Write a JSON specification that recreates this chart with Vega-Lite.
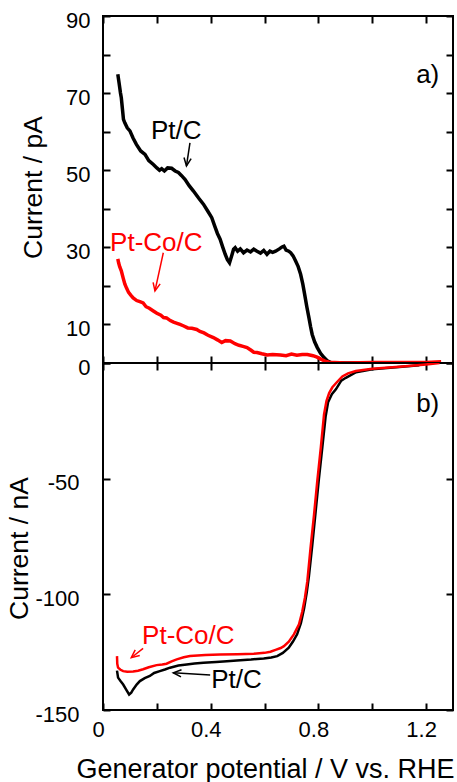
{
  "$schema": "https://vega.github.io/schema/vega-lite/v6.json",
  "padding": {"left": 5, "top": 8, "right": 0, "bottom": 0},
  "background": "white",
  "config": {
    "font": "Liberation Sans",
    "view": {"stroke": "black", "strokeWidth": 2},
    "axis": {
      "domain": false, "grid": false, "ticks": true, "tickSize": 7, "offset": -7, "tickWidth": 2, "tickColor": "black", "zindex": 1,
      "labelFont": "Liberation Sans", "labelFontSize": 22, "labelColor": "black",
      "titleFont": "Liberation Sans", "titleFontSize": 26.5, "titleFontWeight": "normal", "titleColor": "black"
    }
  },
  "datasets": {
    "topBlack": [
      {"V":0.055,"I":74.9},{"V":0.06,"I":72.5},{"V":0.065,"I":70.0},{"V":0.068,"I":68.8},{"V":0.072,"I":66.0},{"V":0.076,"I":63.2},{"V":0.081,"I":62.3},{"V":0.09,"I":61.0},{"V":0.1,"I":60.2},{"V":0.112,"I":58.3},{"V":0.124,"I":56.7},{"V":0.14,"I":55.0},{"V":0.156,"I":54.1},{"V":0.17,"I":52.5},{"V":0.187,"I":51.5},{"V":0.2,"I":50.6},{"V":0.21,"I":50.0},{"V":0.218,"I":50.4},{"V":0.228,"I":49.8},{"V":0.24,"I":50.6},{"V":0.255,"I":50.5},{"V":0.268,"I":49.8},{"V":0.28,"I":49.4},{"V":0.292,"I":48.6},{"V":0.305,"I":47.6},{"V":0.32,"I":46.0},{"V":0.336,"I":44.6},{"V":0.355,"I":42.8},{"V":0.373,"I":41.2},{"V":0.39,"I":39.3},{"V":0.404,"I":37.7},{"V":0.415,"I":35.5},{"V":0.425,"I":33.6},{"V":0.435,"I":32.1},{"V":0.445,"I":30.0},{"V":0.454,"I":28.2},{"V":0.462,"I":26.8},{"V":0.47,"I":26.0},{"V":0.478,"I":27.8},{"V":0.485,"I":29.5},{"V":0.491,"I":29.9},{"V":0.5,"I":29.0},{"V":0.51,"I":29.6},{"V":0.522,"I":28.6},{"V":0.535,"I":29.3},{"V":0.548,"I":28.8},{"V":0.56,"I":29.5},{"V":0.572,"I":29.0},{"V":0.585,"I":28.5},{"V":0.597,"I":29.2},{"V":0.609,"I":28.2},{"V":0.62,"I":29.0},{"V":0.63,"I":28.7},{"V":0.641,"I":29.0},{"V":0.655,"I":29.6},{"V":0.665,"I":30.1},{"V":0.672,"I":30.3},{"V":0.68,"I":29.3},{"V":0.69,"I":29.0},{"V":0.697,"I":28.6},{"V":0.706,"I":27.8},{"V":0.715,"I":26.5},{"V":0.725,"I":25.0},{"V":0.734,"I":23.0},{"V":0.742,"I":20.5},{"V":0.749,"I":17.8},{"V":0.757,"I":14.6},{"V":0.765,"I":11.7},{"V":0.771,"I":9.4},{"V":0.777,"I":7.4},{"V":0.786,"I":5.5},{"V":0.796,"I":4.0},{"V":0.808,"I":2.5},{"V":0.821,"I":1.4},{"V":0.833,"I":0.6},{"V":0.846,"I":0.1},{"V":0.9,"I":0},{"V":1.0,"I":0},{"V":1.1,"I":0},{"V":1.2,"I":0},{"V":1.25,"I":0}
    ],
    "topRed": [
      {"V":0.055,"I":27.0},{"V":0.058,"I":26.0},{"V":0.062,"I":25.0},{"V":0.068,"I":23.9},{"V":0.075,"I":22.0},{"V":0.081,"I":20.5},{"V":0.087,"I":19.5},{"V":0.095,"I":18.3},{"V":0.103,"I":17.6},{"V":0.112,"I":16.9},{"V":0.125,"I":16.2},{"V":0.137,"I":15.9},{"V":0.149,"I":15.6},{"V":0.16,"I":14.6},{"V":0.172,"I":14.2},{"V":0.187,"I":13.5},{"V":0.2,"I":12.9},{"V":0.215,"I":12.4},{"V":0.225,"I":11.8},{"V":0.236,"I":11.7},{"V":0.25,"I":11.0},{"V":0.262,"I":10.6},{"V":0.275,"I":10.3},{"V":0.286,"I":10.0},{"V":0.3,"I":9.6},{"V":0.315,"I":9.1},{"V":0.33,"I":9.0},{"V":0.348,"I":8.7},{"V":0.36,"I":8.2},{"V":0.375,"I":7.8},{"V":0.39,"I":7.2},{"V":0.41,"I":6.6},{"V":0.425,"I":6.0},{"V":0.441,"I":5.3},{"V":0.455,"I":5.8},{"V":0.473,"I":5.7},{"V":0.49,"I":5.0},{"V":0.505,"I":4.6},{"V":0.52,"I":4.3},{"V":0.535,"I":4.0},{"V":0.55,"I":3.3},{"V":0.56,"I":2.8},{"V":0.572,"I":2.7},{"V":0.59,"I":2.4},{"V":0.61,"I":2.1},{"V":0.63,"I":2.2},{"V":0.659,"I":2.1},{"V":0.68,"I":1.9},{"V":0.7,"I":2.3},{"V":0.72,"I":2.0},{"V":0.74,"I":2.2},{"V":0.759,"I":2.2},{"V":0.78,"I":1.9},{"V":0.795,"I":1.5},{"V":0.809,"I":1.0},{"V":0.825,"I":0.5},{"V":0.84,"I":0.2},{"V":0.9,"I":0},{"V":1.0,"I":0.1},{"V":1.1,"I":0.1},{"V":1.2,"I":0.1},{"V":1.256,"I":0.3}
    ],
    "botBlack": [
      {"V":0.052,"I":-133.0},{"V":0.056,"I":-136.0},{"V":0.065,"I":-137.5},{"V":0.075,"I":-139.0},{"V":0.085,"I":-141.0},{"V":0.097,"I":-143.3},{"V":0.105,"I":-142.5},{"V":0.112,"I":-141.1},{"V":0.125,"I":-139.0},{"V":0.137,"I":-137.5},{"V":0.155,"I":-136.2},{"V":0.174,"I":-135.3},{"V":0.19,"I":-134.0},{"V":0.211,"I":-133.2},{"V":0.23,"I":-132.5},{"V":0.249,"I":-131.7},{"V":0.28,"I":-130.8},{"V":0.311,"I":-130.3},{"V":0.34,"I":-129.9},{"V":0.373,"I":-129.6},{"V":0.42,"I":-129.2},{"V":0.46,"I":-128.9},{"V":0.497,"I":-128.6},{"V":0.55,"I":-128.2},{"V":0.597,"I":-127.7},{"V":0.625,"I":-127.3},{"V":0.647,"I":-126.7},{"V":0.668,"I":-125.3},{"V":0.69,"I":-123.1},{"V":0.705,"I":-120.5},{"V":0.721,"I":-117.3},{"V":0.735,"I":-112.5},{"V":0.747,"I":-106.0},{"V":0.757,"I":-99.0},{"V":0.765,"I":-92.0},{"V":0.777,"I":-79.0},{"V":0.79,"I":-64.0},{"V":0.802,"I":-50.0},{"V":0.815,"I":-36.0},{"V":0.827,"I":-23.0},{"V":0.836,"I":-17.0},{"V":0.85,"I":-13.5},{"V":0.865,"I":-11.4},{"V":0.885,"I":-7.6},{"V":0.902,"I":-6.4},{"V":0.94,"I":-4.0},{"V":1.0,"I":-2.7},{"V":1.1,"I":-1.7},{"V":1.175,"I":-1.0}
    ],
    "botRed": [
      {"V":0.052,"I":-126.7},{"V":0.053,"I":-130.0},{"V":0.056,"I":-131.7},{"V":0.065,"I":-132.6},{"V":0.075,"I":-133.2},{"V":0.09,"I":-133.5},{"V":0.112,"I":-133.4},{"V":0.13,"I":-133.0},{"V":0.149,"I":-132.4},{"V":0.17,"I":-131.5},{"V":0.199,"I":-130.6},{"V":0.22,"I":-130.3},{"V":0.236,"I":-130.0},{"V":0.255,"I":-129.0},{"V":0.274,"I":-128.1},{"V":0.3,"I":-127.2},{"V":0.323,"I":-126.7},{"V":0.38,"I":-126.2},{"V":0.435,"I":-126.0},{"V":0.5,"I":-125.9},{"V":0.56,"I":-125.7},{"V":0.6,"I":-125.3},{"V":0.622,"I":-124.8},{"V":0.641,"I":-124.0},{"V":0.66,"I":-123.2},{"V":0.672,"I":-122.4},{"V":0.69,"I":-120.5},{"V":0.709,"I":-117.3},{"V":0.728,"I":-113.0},{"V":0.74,"I":-107.5},{"V":0.75,"I":-101.5},{"V":0.759,"I":-94.3},{"V":0.771,"I":-79.8},{"V":0.784,"I":-65.4},{"V":0.796,"I":-51.0},{"V":0.809,"I":-36.6},{"V":0.821,"I":-22.2},{"V":0.83,"I":-16.5},{"V":0.84,"I":-13.0},{"V":0.852,"I":-10.5},{"V":0.871,"I":-8.0},{"V":0.889,"I":-5.8},{"V":0.91,"I":-4.5},{"V":0.939,"I":-3.5},{"V":1.0,"I":-2.5},{"V":1.1,"I":-1.6},{"V":1.2,"I":-0.6},{"V":1.25,"I":0}
    ],
    "topLabels": [
      {"V":0.272,"I":60.2,"text":"Pt/C","series":"Pt/C"},
      {"V":0.198,"I":31.2,"text":"Pt-Co/C","series":"Pt-Co/C"},
      {"V":1.206,"I":74.8,"text":"a)","series":"Pt/C"}
    ],
    "botLabels": [
      {"V":0.317,"I":-118.0,"text":"Pt-Co/C","series":"Pt-Co/C"},
      {"V":0.496,"I":-137.0,"text":"Pt/C","series":"Pt/C"},
      {"V":1.206,"I":-17.9,"text":"b)","series":"Pt/C"}
    ],
    "topArrows": [
      {"id":"a1","series":"Pt/C","V":0.323,"I":57.1,"V2":0.31,"I2":51.1},
      {"id":"a2","series":"Pt-Co/C","V":0.224,"I":28.6,"V2":0.193,"I2":18.7}
    ],
    "botArrows": [
      {"id":"b1","series":"Pt-Co/C","V":0.149,"I":-123.4,"V2":0.105,"I2":-127.4},
      {"id":"b2","series":"Pt/C","V":0.398,"I":-134.9,"V2":0.261,"I2":-133.9}
    ]
  },
  "vconcat": [
    {
      "width": 350, "height": 347,
      "layer": [
        {
          "data": {"name": "topBlack"},
          "mark": {"type": "line", "color": "black", "strokeWidth": 3.5, "clip": true},
          "encoding": {
            "x": {"field": "V", "type": "quantitative", "scale": {"domain": [0, 1.3], "nice": false, "zero": false},
                  "axis": {"orient": "bottom", "labels": false, "title": null, "values": [0,0.2,0.4,0.6,0.8,1.0,1.2]}},
            "y": {"field": "I", "type": "quantitative", "scale": {"domain": [0, 90], "nice": false},
                  "axis": {"orient": "left", "title": "Current / pA", "values": [0,10,20,30,40,50,60,70,80,90], "labelExpr": "datum.value > 0 && datum.value % 20 == 0 ? '' : '' + datum.value", "labelPadding": 13, "labelOffset": 4, "titlePadding": 18, "titleY": 171}}
          }
        },
        {
          "data": {"name": "topRed"},
          "mark": {"type": "line", "color": "red", "strokeWidth": 3.5, "clip": true},
          "encoding": {
            "x": {"field": "V", "type": "quantitative", "scale": {"domain": [0, 1.3], "nice": false, "zero": false},
                  "axis": {"orient": "top", "labels": false, "title": null, "values": [0,0.2,0.4,0.6,0.8,1.0,1.2]}},
            "y": {"field": "I", "type": "quantitative", "scale": {"domain": [0, 90], "nice": false},
                  "axis": {"orient": "right", "labels": false, "title": null, "values": [0,10,20,30,40,50,60,70,80,90]}}
          }
        },
        {
          "data": {"name": "topLabels"},
          "mark": {"type": "text", "fontSize": 26, "font": "Liberation Sans", "align": "center", "baseline": "middle"},
          "encoding": {
            "x": {"field": "V", "type": "quantitative", "axis": null},
            "y": {"field": "I", "type": "quantitative", "axis": null},
            "text": {"field": "text"},
            "color": {"field": "series", "type": "nominal", "scale": {"domain": ["Pt/C", "Pt-Co/C"], "range": ["black", "red"]}, "legend": null}
          }
        },
        {
          "data": {"name": "topArrows"},
          "mark": {"type": "rule", "strokeWidth": 1.5},
          "encoding": {
            "x": {"field": "V", "type": "quantitative", "axis": null},
            "y": {"field": "I", "type": "quantitative", "axis": null},
            "x2": {"field": "V2"},
            "y2": {"field": "I2"},
            "color": {"field": "series", "type": "nominal", "scale": {"domain": ["Pt/C", "Pt-Co/C"], "range": ["black", "red"]}, "legend": null}
          }
        },
        {
          "data": {"name": "topArrows"},
          "transform": [{"filter": "datum.id == 'a1'"}],
          "mark": {"type": "point", "shape": "M-2,-0.9L0,0L-2,0.9", "size": 64, "filled": false, "strokeWidth": 1.5, "angle": 98, "opacity": 1},
          "encoding": {
            "x": {"field": "V2", "type": "quantitative", "axis": null},
            "y": {"field": "I2", "type": "quantitative", "axis": null},
            "color": {"field": "series", "type": "nominal", "scale": {"domain": ["Pt/C", "Pt-Co/C"], "range": ["black", "red"]}, "legend": null}
          }
        },
        {
          "data": {"name": "topArrows"},
          "transform": [{"filter": "datum.id == 'a2'"}],
          "mark": {"type": "point", "shape": "M-2,-0.9L0,0L-2,0.9", "size": 64, "filled": false, "strokeWidth": 1.5, "angle": 102, "opacity": 1},
          "encoding": {
            "x": {"field": "V2", "type": "quantitative", "axis": null},
            "y": {"field": "I2", "type": "quantitative", "axis": null},
            "color": {"field": "series", "type": "nominal", "scale": {"domain": ["Pt/C", "Pt-Co/C"], "range": ["black", "red"]}, "legend": null}
          }
        }
      ],
      "resolve": {"axis": {"x": "independent", "y": "independent"}}
    },
    {
      "width": 350, "height": 347,
      "layer": [
        {
          "data": {"name": "botBlack"},
          "mark": {"type": "line", "color": "black", "strokeWidth": 2.5, "clip": true},
          "encoding": {
            "x": {"field": "V", "type": "quantitative", "scale": {"domain": [0, 1.3], "nice": false, "zero": false},
                  "axis": {"orient": "bottom", "title": "Generator potential / V vs. RHE", "titleFontSize": 27, "values": [0,0.2,0.4,0.6,0.8,1.0,1.2], "labelExpr": "round(datum.value*10) % 4 == 0 ? (datum.value == 0 ? '0' : format(datum.value, '.1f')) : ''", "labelPadding": 9, "labelOffset": -5, "titlePadding": 16, "titleX": 162, "labelFlush": false}},
            "y": {"field": "I", "type": "quantitative", "scale": {"domain": [-150, 0], "nice": false, "zero": false},
                  "axis": {"orient": "left", "title": "Current / nA", "values": [-150,-100,-50,0], "labelExpr": "datum.value == 0 ? '' : '' + datum.value", "labelPadding": 24, "labelOffset": 4, "titlePadding": 1, "titleY": 185}}
          }
        },
        {
          "data": {"name": "botRed"},
          "mark": {"type": "line", "color": "red", "strokeWidth": 2.5, "clip": true},
          "encoding": {
            "x": {"field": "V", "type": "quantitative", "scale": {"domain": [0, 1.3], "nice": false, "zero": false},
                  "axis": {"orient": "top", "labels": false, "title": null, "values": [0,0.2,0.4,0.6,0.8,1.0,1.2]}},
            "y": {"field": "I", "type": "quantitative", "scale": {"domain": [-150, 0], "nice": false, "zero": false},
                  "axis": {"orient": "right", "labels": false, "title": null, "values": [-150,-100,-50,0]}}
          }
        },
        {
          "data": {"name": "botLabels"},
          "mark": {"type": "text", "fontSize": 26, "font": "Liberation Sans", "align": "center", "baseline": "middle"},
          "encoding": {
            "x": {"field": "V", "type": "quantitative", "axis": null},
            "y": {"field": "I", "type": "quantitative", "axis": null},
            "text": {"field": "text"},
            "color": {"field": "series", "type": "nominal", "scale": {"domain": ["Pt/C", "Pt-Co/C"], "range": ["black", "red"]}, "legend": null}
          }
        },
        {
          "data": {"name": "botArrows"},
          "mark": {"type": "rule", "strokeWidth": 1.5},
          "encoding": {
            "x": {"field": "V", "type": "quantitative", "axis": null},
            "y": {"field": "I", "type": "quantitative", "axis": null},
            "x2": {"field": "V2"},
            "y2": {"field": "I2"},
            "color": {"field": "series", "type": "nominal", "scale": {"domain": ["Pt/C", "Pt-Co/C"], "range": ["black", "red"]}, "legend": null}
          }
        },
        {
          "data": {"name": "botArrows"},
          "transform": [{"filter": "datum.id == 'b1'"}],
          "mark": {"type": "point", "shape": "M-2,-0.9L0,0L-2,0.9", "size": 64, "filled": false, "strokeWidth": 1.5, "angle": 141, "opacity": 1},
          "encoding": {
            "x": {"field": "V2", "type": "quantitative", "axis": null},
            "y": {"field": "I2", "type": "quantitative", "axis": null},
            "color": {"field": "series", "type": "nominal", "scale": {"domain": ["Pt/C", "Pt-Co/C"], "range": ["black", "red"]}, "legend": null}
          }
        },
        {
          "data": {"name": "botArrows"},
          "transform": [{"filter": "datum.id == 'b2'"}],
          "mark": {"type": "point", "shape": "M-2,-0.9L0,0L-2,0.9", "size": 64, "filled": false, "strokeWidth": 1.5, "angle": 184, "opacity": 1},
          "encoding": {
            "x": {"field": "V2", "type": "quantitative", "axis": null},
            "y": {"field": "I2", "type": "quantitative", "axis": null},
            "color": {"field": "series", "type": "nominal", "scale": {"domain": ["Pt/C", "Pt-Co/C"], "range": ["black", "red"]}, "legend": null}
          }
        }
      ],
      "resolve": {"axis": {"x": "independent", "y": "independent"}}
    }
  ],
  "spacing": 0,
  "bounds": "flush"
}
